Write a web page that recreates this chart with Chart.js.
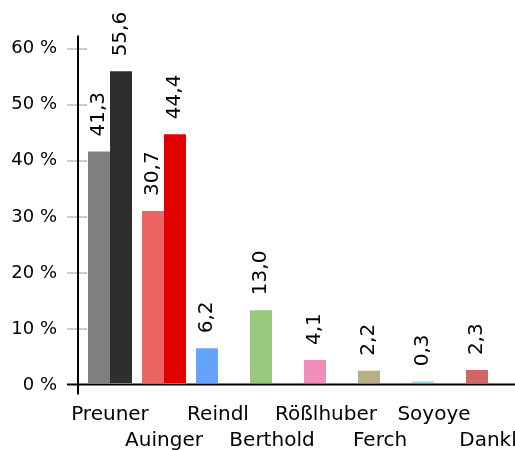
<!DOCTYPE html>
<html><head><meta charset="utf-8">
<script src="https://cdn.jsdelivr.net/npm/chart.js@4"></script>
<style>html,body{margin:0;padding:0;background:#fff}</style>
</head><body>
<canvas id="c" width="515" height="450"></canvas>
<script>
const categories = ['Preuner','Auinger','Reindl','Berthold','Rößlhuber','Ferch','Soyoye','Dankl'];
const firstValues = [41.3, 30.7, 6.2, 13.0, 4.1, 2.2, 0.3, 2.3];
const secondValues = [55.6, 44.4, null, null, null, null, null, null];
const firstColors = ['#808080','#ed6464','#66a3ff','#99c97c','#f08db8','#b8ae88','#9ee0e0','#d26666'];
const secondColors = ['#2e2e2e','#e30000','#2e2e2e','#2e2e2e','#2e2e2e','#2e2e2e','#2e2e2e','#2e2e2e'];
const yTicks = [0, 10, 20, 30, 40, 50, 60];

const FONT = 'DejaVu Sans';
const fmt = v => v.toFixed(1).replace('.', ',');

const decor = {
  id: 'decor',
  beforeDatasetsDraw(chart) {
    const ctx = chart.ctx, ys = chart.scales.y, a = chart.chartArea;
    ctx.save();
    ctx.strokeStyle = '#cccccc';
    ctx.lineWidth = 2;
    yTicks.forEach(v => {
      if (v === 0) return;
      const py = Math.round(ys.getPixelForValue(v)) + 2;
      ctx.beginPath(); ctx.moveTo(a.left - 16, py); ctx.lineTo(a.left + 4, py); ctx.stroke();
    });
    ctx.restore();
  },
  afterDatasetsDraw(chart) {
    const ctx = chart.ctx, ys = chart.scales.y, a = chart.chartArea;
    ctx.save();
    ctx.fillStyle = '#000';
    ctx.font = '20px "' + FONT + '"';
    ctx.textAlign = 'left';
    ctx.textBaseline = 'middle';
    chart.data.datasets.forEach((ds, di) => {
      const meta = chart.getDatasetMeta(di);
      meta.data.forEach((el, i) => {
        const v = ds.data[i];
        if (v === null || v === undefined) return;
        ctx.save();
        ctx.translate(el.x, el.y - 15);
        ctx.rotate(-Math.PI / 2);
        ctx.fillText(fmt(v), 0, 0);
        ctx.restore();
      });
    });
    ctx.strokeStyle = '#000';
    ctx.lineWidth = 2;
    const y0 = Math.round(ys.getPixelForValue(0)) + 1.5;
    ctx.beginPath(); ctx.moveTo(a.left - 16, y0); ctx.lineTo(a.right, y0); ctx.stroke();
    ctx.beginPath(); ctx.moveTo(a.left - 5, a.top); ctx.lineTo(a.left - 5, y0 + 10); ctx.stroke();
    ctx.restore();
  }
};

new Chart(document.getElementById('c'), {
  type: 'bar',
  data: {
    labels: categories.map((c, i) => i % 2 ? ['', c] : [c]),
    datasets: [
      { data: firstValues, backgroundColor: firstColors, borderWidth: 0 },
      { data: secondValues, backgroundColor: secondColors, borderWidth: 0 }
    ]
  },
  options: {
    responsive: false,
    animation: false,
    layout: { autoPadding: false, padding: { top: 35.5, left: 0, right: 0, bottom: 0 } },
    plugins: { legend: { display: false }, tooltip: { enabled: false } },
    datasets: { bar: { categoryPercentage: 0.8148, barPercentage: 1 } },
    scales: {
      x: {
        grid: { display: false, drawTicks: false },
        border: { display: false },
        ticks: {
          autoSkip: false, maxRotation: 0, minRotation: 0, padding: 19,
          color: '#000', font: { family: FONT, size: 20, lineHeight: 1.3 }
        },
        afterFit(s) { s.height = 67; s.paddingLeft = 0; s.paddingRight = 0; }
      },
      y: {
        min: 0, max: 62,
        grid: { display: false, drawTicks: false },
        border: { display: false },
        afterBuildTicks(s) { s.ticks = yTicks.map(v => ({ value: v })); },
        ticks: {
          padding: 26, labelOffset: 2, color: '#000',
          font: { family: FONT, size: 18 },
          callback: v => v + ' %'
        },
        afterFit(s) { s.width = 83; s.paddingTop = 0; s.paddingBottom = 0; }
      }
    }
  },
  plugins: [decor]
});
</script>
</body></html>
